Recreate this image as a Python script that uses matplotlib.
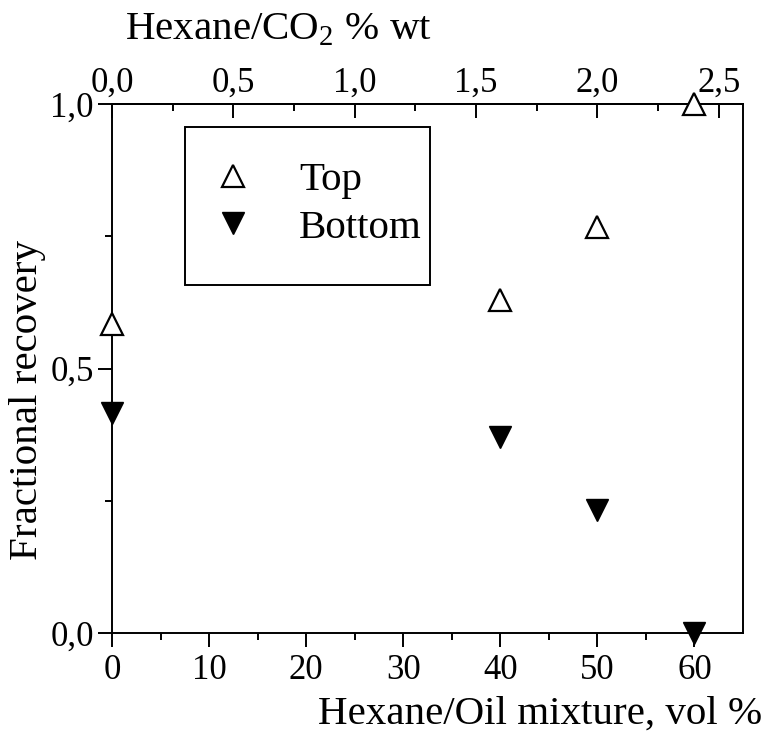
import matplotlib
matplotlib.use("Agg")
import matplotlib.pyplot as plt
from matplotlib.patches import Rectangle
from matplotlib.ticker import FixedLocator, FuncFormatter

plt.rcParams["font.family"] = ["Liberation Serif", "DejaVu Serif"]
plt.rcParams["mathtext.fontset"] = "custom"
plt.rcParams["mathtext.rm"] = "Liberation Serif"

# data
hexane_oil = [0, 40, 50, 60]
top_recovery = [0.585, 0.63, 0.767, 1.0]
bottom_recovery = [0.415, 0.37, 0.233, 0.0]
vol_to_wt = 25.0  # 2.5 vol% of hexane/oil ~ 0.1 wt% hexane/CO2
bottom_ticks = [0, 10, 20, 30, 40, 50, 60]
top_ticks = [0.0, 0.5, 1.0, 1.5, 2.0, 2.5]
y_ticks = [0.0, 0.5, 1.0]


def comma(v, pos):
    return f"{v:.1f}".replace(".", ",")


fig = plt.figure(figsize=(7.64, 7.31), dpi=100)
ax = fig.add_axes([112 / 764, 98 / 731, 631 / 764, 529 / 731])

ax.plot(hexane_oil, top_recovery, linestyle="none", marker="^", ms=16,
        mfc="white", mec="black", mew=1.6, label="Top", clip_on=False, zorder=5)
ax.plot(hexane_oil, bottom_recovery, linestyle="none", marker="v", ms=16,
        mfc="black", mec="black", mew=1.0, label="Bottom", clip_on=False, zorder=5)

ax.set_xlim(0, 65)
ax.set_ylim(0, 1.0)
ax.xaxis.set_major_locator(FixedLocator(bottom_ticks))
ax.xaxis.set_minor_locator(FixedLocator([5, 15, 25, 35, 45, 55]))
ax.yaxis.set_major_locator(FixedLocator(y_ticks))
ax.yaxis.set_minor_locator(FixedLocator([0.25, 0.75]))
ax.yaxis.set_major_formatter(FuncFormatter(comma))
ax.tick_params(axis="both", which="major", labelsize=25, length=10, width=1.4,
               direction="out", pad=3)
ax.tick_params(axis="x", which="major", pad=5)
ax.tick_params(axis="both", which="minor", length=5, width=1.4, direction="out")
ax.tick_params(axis="x", top=False)
ax.tick_params(axis="y", right=False)
for s in ax.spines.values():
    s.set_linewidth(1.4)

sec = ax.secondary_xaxis("top", functions=(lambda x: x / vol_to_wt,
                                            lambda x: x * vol_to_wt))
sec.xaxis.set_major_locator(FixedLocator(top_ticks))
sec.xaxis.set_minor_locator(FixedLocator([0.25, 0.75, 1.25, 1.75, 2.25]))
sec.xaxis.set_major_formatter(FuncFormatter(comma))
sec.tick_params(which="major", labelsize=25, length=10, width=1.4,
                direction="in", pad=3)
sec.tick_params(which="minor", length=5, width=1.4, direction="in")
sec.spines["top"].set_linewidth(1.4)

ax.set_ylabel("Fractional recovery", fontsize=29.5)
ax.yaxis.set_label_coords(-0.105, 0.44)

fig.text(762 / 764, 1 - 714 / 731, "Hexane/Oil mixture, vol %", fontsize=29.5,
         ha="right", va="center")
fig.text(125 / 764, 1 - 30 / 731, "Hexane/CO$_2$ % wt", fontsize=29.5,
         ha="left", va="center")

# legend box drawn separately, entries placed inside
ax.add_patch(Rectangle((73 / 631, 348 / 529), 245 / 631, 158 / 529,
                       transform=ax.transAxes, fill=False, edgecolor="black",
                       linewidth=1.4, zorder=4))
ax.legend(loc="center left", bbox_to_anchor=(101 / 631, 429 / 529),
          fontsize=29.5, frameon=False, markerscale=1.0, handlelength=1.0,
          handletextpad=1.1, borderpad=0, borderaxespad=0, labelspacing=0.25)

fig.savefig("out.png", dpi=100)
